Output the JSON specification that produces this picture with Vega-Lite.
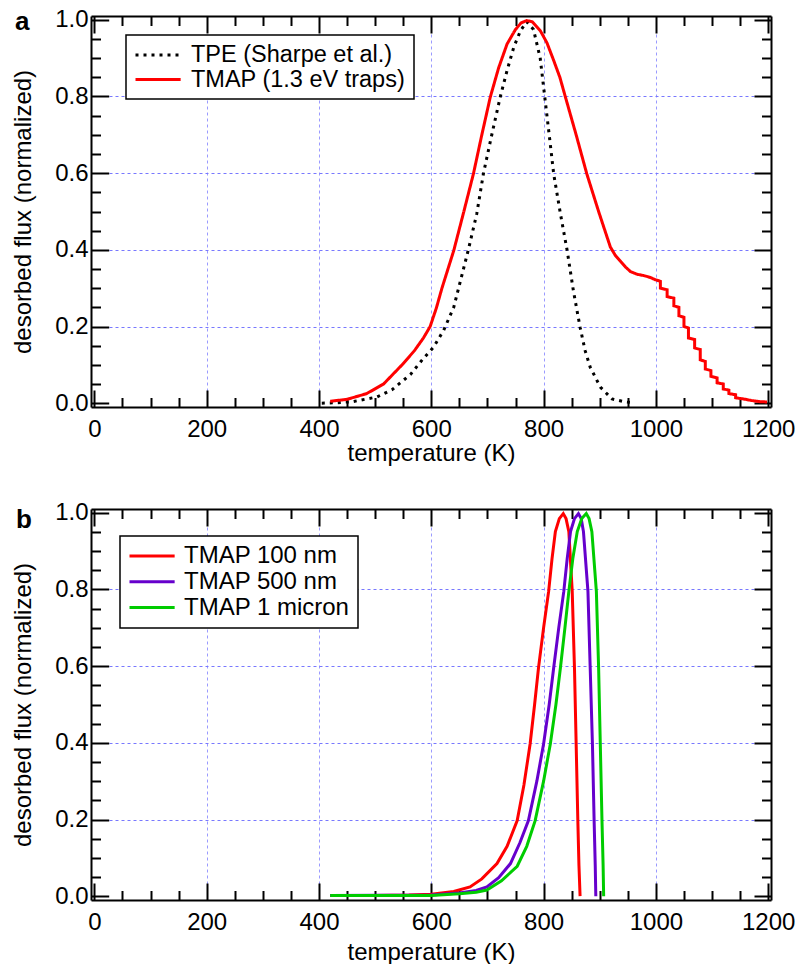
{
  "$schema": "https://vega.github.io/schema/vega-lite/v6.json",
  "padding": {"left": 11, "top": 7, "right": 5, "bottom": 2},
  "bounds": "flush",
  "spacing": 102,
  "resolve": {"scale": {"color": "independent", "strokeDash": "independent"}, "legend": {"color": "independent", "strokeDash": "independent"}},
  "config": {
    "font": "Liberation Sans",
    "view": {"stroke": null},
    "axis": {
      "labelFont": "Liberation Sans", "titleFont": "Liberation Sans",
      "labelFontSize": 24, "titleFontSize": 24, "labelColor": "black", "titleColor": "black",
      "titleFontWeight": "normal", "domainColor": "black", "domainWidth": 2,
      "tickColor": "black", "tickWidth": 2, "labelFlush": false, "labelOverlap": false,
      "gridDash": [3, 3], "gridWidth": 1
    },
    "legend": {"strokeWidth": 1.5, "labelLimit": 0}
  },
  "datasets": {
    "a": [
      {"s": "TPE (Sharpe et al.)", "i": 0, "T": 405, "f": 0.0},
      {"s": "TPE (Sharpe et al.)", "i": 1, "T": 430, "f": 0.001},
      {"s": "TPE (Sharpe et al.)", "i": 2, "T": 460, "f": 0.004},
      {"s": "TPE (Sharpe et al.)", "i": 3, "T": 503, "f": 0.016},
      {"s": "TPE (Sharpe et al.)", "i": 4, "T": 530, "f": 0.035},
      {"s": "TPE (Sharpe et al.)", "i": 5, "T": 563, "f": 0.075},
      {"s": "TPE (Sharpe et al.)", "i": 6, "T": 585, "f": 0.115},
      {"s": "TPE (Sharpe et al.)", "i": 7, "T": 604, "f": 0.146},
      {"s": "TPE (Sharpe et al.)", "i": 8, "T": 622, "f": 0.19},
      {"s": "TPE (Sharpe et al.)", "i": 9, "T": 640, "f": 0.25},
      {"s": "TPE (Sharpe et al.)", "i": 10, "T": 666, "f": 0.4},
      {"s": "TPE (Sharpe et al.)", "i": 11, "T": 681, "f": 0.494},
      {"s": "TPE (Sharpe et al.)", "i": 12, "T": 693, "f": 0.6},
      {"s": "TPE (Sharpe et al.)", "i": 13, "T": 708, "f": 0.702},
      {"s": "TPE (Sharpe et al.)", "i": 14, "T": 723, "f": 0.8},
      {"s": "TPE (Sharpe et al.)", "i": 15, "T": 735, "f": 0.868},
      {"s": "TPE (Sharpe et al.)", "i": 16, "T": 747, "f": 0.929},
      {"s": "TPE (Sharpe et al.)", "i": 17, "T": 759, "f": 0.972},
      {"s": "TPE (Sharpe et al.)", "i": 18, "T": 770, "f": 0.995},
      {"s": "TPE (Sharpe et al.)", "i": 19, "T": 782, "f": 0.975},
      {"s": "TPE (Sharpe et al.)", "i": 20, "T": 794, "f": 0.9},
      {"s": "TPE (Sharpe et al.)", "i": 21, "T": 802, "f": 0.8},
      {"s": "TPE (Sharpe et al.)", "i": 22, "T": 810, "f": 0.7},
      {"s": "TPE (Sharpe et al.)", "i": 23, "T": 818, "f": 0.598},
      {"s": "TPE (Sharpe et al.)", "i": 24, "T": 830, "f": 0.494},
      {"s": "TPE (Sharpe et al.)", "i": 25, "T": 842, "f": 0.398},
      {"s": "TPE (Sharpe et al.)", "i": 26, "T": 853, "f": 0.294},
      {"s": "TPE (Sharpe et al.)", "i": 27, "T": 865, "f": 0.198},
      {"s": "TPE (Sharpe et al.)", "i": 28, "T": 874, "f": 0.137},
      {"s": "TPE (Sharpe et al.)", "i": 29, "T": 883, "f": 0.094},
      {"s": "TPE (Sharpe et al.)", "i": 30, "T": 901, "f": 0.042},
      {"s": "TPE (Sharpe et al.)", "i": 31, "T": 922, "f": 0.011},
      {"s": "TPE (Sharpe et al.)", "i": 32, "T": 946, "f": 0.003},
      {"s": "TPE (Sharpe et al.)", "i": 33, "T": 955, "f": 0.002},
      {"s": "TMAP (1.3 eV traps)", "i": 0, "T": 420, "f": 0.005},
      {"s": "TMAP (1.3 eV traps)", "i": 1, "T": 450, "f": 0.01},
      {"s": "TMAP (1.3 eV traps)", "i": 2, "T": 485, "f": 0.025},
      {"s": "TMAP (1.3 eV traps)", "i": 3, "T": 515, "f": 0.05},
      {"s": "TMAP (1.3 eV traps)", "i": 4, "T": 548, "f": 0.1},
      {"s": "TMAP (1.3 eV traps)", "i": 5, "T": 570, "f": 0.137},
      {"s": "TMAP (1.3 eV traps)", "i": 6, "T": 586, "f": 0.17},
      {"s": "TMAP (1.3 eV traps)", "i": 7, "T": 598, "f": 0.2},
      {"s": "TMAP (1.3 eV traps)", "i": 8, "T": 609, "f": 0.248},
      {"s": "TMAP (1.3 eV traps)", "i": 9, "T": 619, "f": 0.3},
      {"s": "TMAP (1.3 eV traps)", "i": 10, "T": 640, "f": 0.398},
      {"s": "TMAP (1.3 eV traps)", "i": 11, "T": 658, "f": 0.5},
      {"s": "TMAP (1.3 eV traps)", "i": 12, "T": 675, "f": 0.598},
      {"s": "TMAP (1.3 eV traps)", "i": 13, "T": 690, "f": 0.7},
      {"s": "TMAP (1.3 eV traps)", "i": 14, "T": 705, "f": 0.798},
      {"s": "TMAP (1.3 eV traps)", "i": 15, "T": 720, "f": 0.875},
      {"s": "TMAP (1.3 eV traps)", "i": 16, "T": 735, "f": 0.937},
      {"s": "TMAP (1.3 eV traps)", "i": 17, "T": 750, "f": 0.975},
      {"s": "TMAP (1.3 eV traps)", "i": 18, "T": 760, "f": 0.992},
      {"s": "TMAP (1.3 eV traps)", "i": 19, "T": 770, "f": 0.998},
      {"s": "TMAP (1.3 eV traps)", "i": 20, "T": 780, "f": 0.995},
      {"s": "TMAP (1.3 eV traps)", "i": 21, "T": 794, "f": 0.972},
      {"s": "TMAP (1.3 eV traps)", "i": 22, "T": 806, "f": 0.94},
      {"s": "TMAP (1.3 eV traps)", "i": 23, "T": 818, "f": 0.894},
      {"s": "TMAP (1.3 eV traps)", "i": 24, "T": 829, "f": 0.85},
      {"s": "TMAP (1.3 eV traps)", "i": 25, "T": 839, "f": 0.798},
      {"s": "TMAP (1.3 eV traps)", "i": 26, "T": 858, "f": 0.7},
      {"s": "TMAP (1.3 eV traps)", "i": 27, "T": 877, "f": 0.598},
      {"s": "TMAP (1.3 eV traps)", "i": 28, "T": 898, "f": 0.5},
      {"s": "TMAP (1.3 eV traps)", "i": 29, "T": 919, "f": 0.407},
      {"s": "TMAP (1.3 eV traps)", "i": 30, "T": 928, "f": 0.385},
      {"s": "TMAP (1.3 eV traps)", "i": 31, "T": 937, "f": 0.37},
      {"s": "TMAP (1.3 eV traps)", "i": 32, "T": 946, "f": 0.355},
      {"s": "TMAP (1.3 eV traps)", "i": 33, "T": 955, "f": 0.343},
      {"s": "TMAP (1.3 eV traps)", "i": 34, "T": 967, "f": 0.336},
      {"s": "TMAP (1.3 eV traps)", "i": 35, "T": 978, "f": 0.333},
      {"s": "TMAP (1.3 eV traps)", "i": 36, "T": 990, "f": 0.328},
      {"s": "TMAP (1.3 eV traps)", "i": 37, "T": 999, "f": 0.322},
      {"s": "TMAP (1.3 eV traps)", "i": 38, "T": 1008, "f": 0.318},
      {"s": "TMAP (1.3 eV traps)", "i": 39, "T": 1008, "f": 0.3},
      {"s": "TMAP (1.3 eV traps)", "i": 40, "T": 1020, "f": 0.296},
      {"s": "TMAP (1.3 eV traps)", "i": 41, "T": 1020, "f": 0.278},
      {"s": "TMAP (1.3 eV traps)", "i": 42, "T": 1032, "f": 0.274},
      {"s": "TMAP (1.3 eV traps)", "i": 43, "T": 1032, "f": 0.254},
      {"s": "TMAP (1.3 eV traps)", "i": 44, "T": 1041, "f": 0.25},
      {"s": "TMAP (1.3 eV traps)", "i": 45, "T": 1041, "f": 0.228},
      {"s": "TMAP (1.3 eV traps)", "i": 46, "T": 1050, "f": 0.224},
      {"s": "TMAP (1.3 eV traps)", "i": 47, "T": 1050, "f": 0.2},
      {"s": "TMAP (1.3 eV traps)", "i": 48, "T": 1058, "f": 0.196},
      {"s": "TMAP (1.3 eV traps)", "i": 49, "T": 1058, "f": 0.17},
      {"s": "TMAP (1.3 eV traps)", "i": 50, "T": 1069, "f": 0.166},
      {"s": "TMAP (1.3 eV traps)", "i": 51, "T": 1069, "f": 0.144},
      {"s": "TMAP (1.3 eV traps)", "i": 52, "T": 1079, "f": 0.14},
      {"s": "TMAP (1.3 eV traps)", "i": 53, "T": 1079, "f": 0.113},
      {"s": "TMAP (1.3 eV traps)", "i": 54, "T": 1088, "f": 0.109},
      {"s": "TMAP (1.3 eV traps)", "i": 55, "T": 1088, "f": 0.089},
      {"s": "TMAP (1.3 eV traps)", "i": 56, "T": 1098, "f": 0.085},
      {"s": "TMAP (1.3 eV traps)", "i": 57, "T": 1098, "f": 0.07},
      {"s": "TMAP (1.3 eV traps)", "i": 58, "T": 1109, "f": 0.066},
      {"s": "TMAP (1.3 eV traps)", "i": 59, "T": 1109, "f": 0.053},
      {"s": "TMAP (1.3 eV traps)", "i": 60, "T": 1120, "f": 0.05},
      {"s": "TMAP (1.3 eV traps)", "i": 61, "T": 1120, "f": 0.037},
      {"s": "TMAP (1.3 eV traps)", "i": 62, "T": 1130, "f": 0.034},
      {"s": "TMAP (1.3 eV traps)", "i": 63, "T": 1130, "f": 0.025},
      {"s": "TMAP (1.3 eV traps)", "i": 64, "T": 1142, "f": 0.022},
      {"s": "TMAP (1.3 eV traps)", "i": 65, "T": 1142, "f": 0.014},
      {"s": "TMAP (1.3 eV traps)", "i": 66, "T": 1156, "f": 0.011},
      {"s": "TMAP (1.3 eV traps)", "i": 67, "T": 1170, "f": 0.007},
      {"s": "TMAP (1.3 eV traps)", "i": 68, "T": 1185, "f": 0.004},
      {"s": "TMAP (1.3 eV traps)", "i": 69, "T": 1198, "f": 0.003}
    ],
    "b": [
      {"s": "TMAP 100 nm", "i": 0, "T": 420, "f": 0.002},
      {"s": "TMAP 100 nm", "i": 1, "T": 500, "f": 0.002},
      {"s": "TMAP 100 nm", "i": 2, "T": 560, "f": 0.003},
      {"s": "TMAP 100 nm", "i": 3, "T": 600, "f": 0.005},
      {"s": "TMAP 100 nm", "i": 4, "T": 640, "f": 0.012},
      {"s": "TMAP 100 nm", "i": 5, "T": 669, "f": 0.024},
      {"s": "TMAP 100 nm", "i": 6, "T": 690, "f": 0.045},
      {"s": "TMAP 100 nm", "i": 7, "T": 717, "f": 0.085},
      {"s": "TMAP 100 nm", "i": 8, "T": 735, "f": 0.13},
      {"s": "TMAP 100 nm", "i": 9, "T": 753, "f": 0.197},
      {"s": "TMAP 100 nm", "i": 10, "T": 765, "f": 0.29},
      {"s": "TMAP 100 nm", "i": 11, "T": 776, "f": 0.397},
      {"s": "TMAP 100 nm", "i": 12, "T": 784, "f": 0.5},
      {"s": "TMAP 100 nm", "i": 13, "T": 791, "f": 0.596},
      {"s": "TMAP 100 nm", "i": 14, "T": 800, "f": 0.7},
      {"s": "TMAP 100 nm", "i": 15, "T": 809, "f": 0.795},
      {"s": "TMAP 100 nm", "i": 16, "T": 815, "f": 0.88},
      {"s": "TMAP 100 nm", "i": 17, "T": 821, "f": 0.951},
      {"s": "TMAP 100 nm", "i": 18, "T": 828, "f": 0.985},
      {"s": "TMAP 100 nm", "i": 19, "T": 835, "f": 0.998},
      {"s": "TMAP 100 nm", "i": 20, "T": 840, "f": 0.985},
      {"s": "TMAP 100 nm", "i": 21, "T": 845, "f": 0.951},
      {"s": "TMAP 100 nm", "i": 22, "T": 851, "f": 0.795},
      {"s": "TMAP 100 nm", "i": 23, "T": 855, "f": 0.596},
      {"s": "TMAP 100 nm", "i": 24, "T": 858, "f": 0.397},
      {"s": "TMAP 100 nm", "i": 25, "T": 861, "f": 0.197},
      {"s": "TMAP 100 nm", "i": 26, "T": 863, "f": 0.08},
      {"s": "TMAP 100 nm", "i": 27, "T": 865, "f": 0.0},
      {"s": "TMAP 500 nm", "i": 0, "T": 420, "f": 0.002},
      {"s": "TMAP 500 nm", "i": 1, "T": 600, "f": 0.003},
      {"s": "TMAP 500 nm", "i": 2, "T": 650, "f": 0.008},
      {"s": "TMAP 500 nm", "i": 3, "T": 680, "f": 0.015},
      {"s": "TMAP 500 nm", "i": 4, "T": 699, "f": 0.024},
      {"s": "TMAP 500 nm", "i": 5, "T": 720, "f": 0.048},
      {"s": "TMAP 500 nm", "i": 6, "T": 741, "f": 0.085},
      {"s": "TMAP 500 nm", "i": 7, "T": 758, "f": 0.14},
      {"s": "TMAP 500 nm", "i": 8, "T": 773, "f": 0.197},
      {"s": "TMAP 500 nm", "i": 9, "T": 788, "f": 0.3},
      {"s": "TMAP 500 nm", "i": 10, "T": 800, "f": 0.397},
      {"s": "TMAP 500 nm", "i": 11, "T": 810, "f": 0.5},
      {"s": "TMAP 500 nm", "i": 12, "T": 818, "f": 0.596},
      {"s": "TMAP 500 nm", "i": 13, "T": 827, "f": 0.7},
      {"s": "TMAP 500 nm", "i": 14, "T": 836, "f": 0.795},
      {"s": "TMAP 500 nm", "i": 15, "T": 842, "f": 0.88},
      {"s": "TMAP 500 nm", "i": 16, "T": 848, "f": 0.951},
      {"s": "TMAP 500 nm", "i": 17, "T": 855, "f": 0.985},
      {"s": "TMAP 500 nm", "i": 18, "T": 862, "f": 0.998},
      {"s": "TMAP 500 nm", "i": 19, "T": 867, "f": 0.985},
      {"s": "TMAP 500 nm", "i": 20, "T": 871, "f": 0.951},
      {"s": "TMAP 500 nm", "i": 21, "T": 879, "f": 0.795},
      {"s": "TMAP 500 nm", "i": 22, "T": 883, "f": 0.596},
      {"s": "TMAP 500 nm", "i": 23, "T": 887, "f": 0.397},
      {"s": "TMAP 500 nm", "i": 24, "T": 890, "f": 0.197},
      {"s": "TMAP 500 nm", "i": 25, "T": 892, "f": 0.08},
      {"s": "TMAP 500 nm", "i": 26, "T": 893, "f": 0.0},
      {"s": "TMAP 1 micron", "i": 0, "T": 420, "f": 0.002},
      {"s": "TMAP 1 micron", "i": 1, "T": 600, "f": 0.002},
      {"s": "TMAP 1 micron", "i": 2, "T": 650, "f": 0.006},
      {"s": "TMAP 1 micron", "i": 3, "T": 680, "f": 0.01},
      {"s": "TMAP 1 micron", "i": 4, "T": 699, "f": 0.016},
      {"s": "TMAP 1 micron", "i": 5, "T": 725, "f": 0.04},
      {"s": "TMAP 1 micron", "i": 6, "T": 753, "f": 0.078},
      {"s": "TMAP 1 micron", "i": 7, "T": 770, "f": 0.13},
      {"s": "TMAP 1 micron", "i": 8, "T": 785, "f": 0.197},
      {"s": "TMAP 1 micron", "i": 9, "T": 800, "f": 0.3},
      {"s": "TMAP 1 micron", "i": 10, "T": 812, "f": 0.397},
      {"s": "TMAP 1 micron", "i": 11, "T": 822, "f": 0.5},
      {"s": "TMAP 1 micron", "i": 12, "T": 830, "f": 0.596},
      {"s": "TMAP 1 micron", "i": 13, "T": 838, "f": 0.7},
      {"s": "TMAP 1 micron", "i": 14, "T": 845, "f": 0.795},
      {"s": "TMAP 1 micron", "i": 15, "T": 852, "f": 0.88},
      {"s": "TMAP 1 micron", "i": 16, "T": 860, "f": 0.951},
      {"s": "TMAP 1 micron", "i": 17, "T": 868, "f": 0.985},
      {"s": "TMAP 1 micron", "i": 18, "T": 876, "f": 0.998},
      {"s": "TMAP 1 micron", "i": 19, "T": 881, "f": 0.985},
      {"s": "TMAP 1 micron", "i": 20, "T": 886, "f": 0.951},
      {"s": "TMAP 1 micron", "i": 21, "T": 894, "f": 0.795},
      {"s": "TMAP 1 micron", "i": 22, "T": 898, "f": 0.596},
      {"s": "TMAP 1 micron", "i": 23, "T": 901, "f": 0.397},
      {"s": "TMAP 1 micron", "i": 24, "T": 904, "f": 0.197},
      {"s": "TMAP 1 micron", "i": 25, "T": 906, "f": 0.08},
      {"s": "TMAP 1 micron", "i": 26, "T": 907, "f": 0.0}
    ]
  },
  "vconcat": [
    {
      "width": 680,
      "height": 391,
      "title": {"text": "a", "anchor": "start", "frame": "group", "orient": "top", "offset": 0, "dx": -76, "dy": 48, "baseline": "alphabetic", "fontSize": 26, "fontWeight": "bold", "color": "black", "font": "Liberation Sans"},
      "data": {"name": "a"},
      "layer": [
        {
          "transform": [{"filter": "datum.s === 'TPE (Sharpe et al.)'"}],
          "mark": {"type": "line", "strokeWidth": 3},
          "encoding": {
            "x": {"field": "T", "type": "quantitative", "scale": {"domain": [-6, 1205], "nice": false, "zero": false},
              "axis": {"orient": "bottom", "title": "temperature (K)", "format": "d",
                "values": [0,50,100,150,200,250,300,350,400,450,500,550,600,650,700,750,800,850,900,950,1000,1050,1100,1150,1200],
                "labelExpr": "datum.value % 200 === 0 ? datum.label : ''",
                "tickSize": {"condition": {"test": "datum.value % 200 === 0", "value": -17}, "value": -9.5},
                "labelPadding": 27, "titlePadding": -7,
                "grid": true, "gridColor": "#9a9aff",
                "gridOpacity": {"condition": {"test": "datum.value % 200 === 0 && datum.value > 0 && datum.value < 1200", "value": 1}, "value": 0}}},
            "y": {"field": "f", "type": "quantitative", "scale": {"domain": [-0.01, 1.01], "nice": false, "zero": false},
              "axis": {"orient": "left", "title": "desorbed flux (normalized)",
                "values": [0,0.05,0.1,0.15,0.2,0.25,0.3,0.35,0.4,0.45,0.5,0.55,0.6,0.65,0.7,0.75,0.8,0.85,0.9,0.95,1],
                "labelExpr": "abs(datum.value*5 - round(datum.value*5)) < 0.001 ? format(datum.value, '.1f') : ''",
                "tickSize": {"condition": {"test": "abs(datum.value*5 - round(datum.value*5)) < 0.001", "value": -17.7}, "value": -9.5},
                "labelPadding": 20.7, "titlePadding": 19,
                "grid": true, "gridColor": "#7878ff",
                "gridOpacity": {"condition": {"test": "abs(datum.value*5 - round(datum.value*5)) < 0.001 && datum.value > 0.01 && datum.value < 0.99", "value": 1}, "value": 0}}},
            "color": {"field": "s", "type": "nominal", "scale": {"domain": ["TPE (Sharpe et al.)", "TMAP (1.3 eV traps)"], "range": ["#000000", "#ff0000"]},
              "legend": {"orient": "none", "legendX": 35, "legendY": 19, "title": null, "symbolType": "M-1,0H3.3", "symbolSize": 441, "symbolStrokeWidth": 3, "labelFontSize": 23.5, "labelColor": "black", "labelFont": "Liberation Sans", "labelOffset": 33, "labelLimit": 0, "strokeColor": "black", "fillColor": "white", "padding": 8, "rowPadding": 0.5}},
            "strokeDash": {"field": "s", "type": "nominal", "scale": {"domain": ["TPE (Sharpe et al.)", "TMAP (1.3 eV traps)"], "range": [[3, 5], [1, 0]]},
              "legend": {"orient": "none", "legendX": 35, "legendY": 19, "title": null, "symbolType": "M-1,0H3.3", "symbolSize": 441, "symbolStrokeWidth": 3, "labelFontSize": 23.5, "labelColor": "black", "labelFont": "Liberation Sans", "labelOffset": 33, "labelLimit": 0, "strokeColor": "black", "fillColor": "white", "padding": 8, "rowPadding": 0.5}},
            "order": {"field": "i", "type": "quantitative"}
          }
        },
        {
          "transform": [{"filter": "datum.s === 'TMAP (1.3 eV traps)'"}],
          "mark": {"type": "line", "strokeWidth": 3},
          "encoding": {
            "x": {"field": "T", "type": "quantitative", "scale": {"domain": [-6, 1205], "nice": false, "zero": false},
              "axis": {"orient": "top", "title": null, "labels": false, "grid": false,
                "values": [0,50,100,150,200,250,300,350,400,450,500,550,600,650,700,750,800,850,900,950,1000,1050,1100,1150,1200],
                "tickSize": {"condition": {"test": "datum.value % 200 === 0", "value": -17}, "value": -9.5}}},
            "y": {"field": "f", "type": "quantitative", "scale": {"domain": [-0.01, 1.01], "nice": false, "zero": false},
              "axis": {"orient": "right", "title": null, "labels": false, "grid": false,
                "values": [0,0.05,0.1,0.15,0.2,0.25,0.3,0.35,0.4,0.45,0.5,0.55,0.6,0.65,0.7,0.75,0.8,0.85,0.9,0.95,1],
                "tickSize": {"condition": {"test": "abs(datum.value*5 - round(datum.value*5)) < 0.001", "value": -17}, "value": -9.5}}},
            "color": {"field": "s", "type": "nominal", "scale": {"domain": ["TPE (Sharpe et al.)", "TMAP (1.3 eV traps)"], "range": ["#000000", "#ff0000"]}},
            "strokeDash": {"field": "s", "type": "nominal", "scale": {"domain": ["TPE (Sharpe et al.)", "TMAP (1.3 eV traps)"], "range": [[3, 5], [1, 0]]}},
            "order": {"field": "i", "type": "quantitative"}
          }
        }
      ],
      "resolve": {"axis": {"x": "independent", "y": "independent"}}
    },
    {
      "width": 680,
      "height": 391,
      "title": {"text": "b", "anchor": "start", "frame": "group", "orient": "top", "offset": 0, "dx": -75, "dy": 53, "baseline": "alphabetic", "fontSize": 26, "fontWeight": "bold", "color": "black", "font": "Liberation Sans"},
      "data": {"name": "b"},
      "layer": [
        {
          "transform": [{"filter": "datum.s === 'TMAP 100 nm'"}],
          "mark": {"type": "line", "strokeWidth": 3},
          "encoding": {
            "x": {"field": "T", "type": "quantitative", "scale": {"domain": [-6, 1205], "nice": false, "zero": false},
              "axis": {"orient": "bottom", "title": "temperature (K)", "format": "d",
                "values": [0,50,100,150,200,250,300,350,400,450,500,550,600,650,700,750,800,850,900,950,1000,1050,1100,1150,1200],
                "labelExpr": "datum.value % 200 === 0 ? datum.label : ''",
                "tickSize": {"condition": {"test": "datum.value % 200 === 0", "value": -17}, "value": -9.5},
                "labelPadding": 27, "titlePadding": -1,
                "grid": true, "gridColor": "#9a9aff",
                "gridOpacity": {"condition": {"test": "datum.value % 200 === 0 && datum.value > 0 && datum.value < 1200", "value": 1}, "value": 0}}},
            "y": {"field": "f", "type": "quantitative", "scale": {"domain": [-0.01, 1.01], "nice": false, "zero": false},
              "axis": {"orient": "left", "title": "desorbed flux (normalized)",
                "values": [0,0.05,0.1,0.15,0.2,0.25,0.3,0.35,0.4,0.45,0.5,0.55,0.6,0.65,0.7,0.75,0.8,0.85,0.9,0.95,1],
                "labelExpr": "abs(datum.value*5 - round(datum.value*5)) < 0.001 ? format(datum.value, '.1f') : ''",
                "tickSize": {"condition": {"test": "abs(datum.value*5 - round(datum.value*5)) < 0.001", "value": -17.7}, "value": -9.5},
                "labelPadding": 20.7, "titlePadding": 19,
                "grid": true, "gridColor": "#7878ff",
                "gridOpacity": {"condition": {"test": "abs(datum.value*5 - round(datum.value*5)) < 0.001 && datum.value > 0.01 && datum.value < 0.99", "value": 1}, "value": 0}}},
            "color": {"field": "s", "type": "nominal", "scale": {"domain": ["TMAP 100 nm", "TMAP 500 nm", "TMAP 1 micron"], "range": ["#ff0000", "#6600cc", "#00cc00"]},
              "legend": {"orient": "none", "legendX": 29, "legendY": 27, "title": null, "symbolType": "M-1,0H3.3", "symbolSize": 441, "symbolStrokeWidth": 3, "labelFontSize": 24, "labelColor": "black", "labelFont": "Liberation Sans", "labelOffset": 32, "labelLimit": 0, "strokeColor": "black", "fillColor": "white", "padding": 8, "rowPadding": 1.8}},
            "order": {"field": "i", "type": "quantitative"}
          }
        },
        {
          "transform": [{"filter": "datum.s === 'TMAP 500 nm'"}],
          "mark": {"type": "line", "strokeWidth": 3},
          "encoding": {
            "x": {"field": "T", "type": "quantitative", "scale": {"domain": [-6, 1205], "nice": false, "zero": false},
              "axis": {"orient": "top", "title": null, "labels": false, "grid": false,
                "values": [0,50,100,150,200,250,300,350,400,450,500,550,600,650,700,750,800,850,900,950,1000,1050,1100,1150,1200],
                "tickSize": {"condition": {"test": "datum.value % 200 === 0", "value": -17}, "value": -9.5}}},
            "y": {"field": "f", "type": "quantitative", "scale": {"domain": [-0.01, 1.01], "nice": false, "zero": false},
              "axis": {"orient": "right", "title": null, "labels": false, "grid": false,
                "values": [0,0.05,0.1,0.15,0.2,0.25,0.3,0.35,0.4,0.45,0.5,0.55,0.6,0.65,0.7,0.75,0.8,0.85,0.9,0.95,1],
                "tickSize": {"condition": {"test": "abs(datum.value*5 - round(datum.value*5)) < 0.001", "value": -17}, "value": -9.5}}},
            "color": {"field": "s", "type": "nominal", "scale": {"domain": ["TMAP 100 nm", "TMAP 500 nm", "TMAP 1 micron"], "range": ["#ff0000", "#6600cc", "#00cc00"]}},
            "order": {"field": "i", "type": "quantitative"}
          }
        },
        {
          "transform": [{"filter": "datum.s === 'TMAP 1 micron'"}],
          "mark": {"type": "line", "strokeWidth": 3},
          "encoding": {
            "x": {"field": "T", "type": "quantitative", "scale": {"domain": [-6, 1205], "nice": false, "zero": false}, "axis": null},
            "y": {"field": "f", "type": "quantitative", "scale": {"domain": [-0.01, 1.01], "nice": false, "zero": false}, "axis": null},
            "color": {"field": "s", "type": "nominal", "scale": {"domain": ["TMAP 100 nm", "TMAP 500 nm", "TMAP 1 micron"], "range": ["#ff0000", "#6600cc", "#00cc00"]}},
            "order": {"field": "i", "type": "quantitative"}
          }
        }
      ],
      "resolve": {"axis": {"x": "independent", "y": "independent"}}
    }
  ]
}
